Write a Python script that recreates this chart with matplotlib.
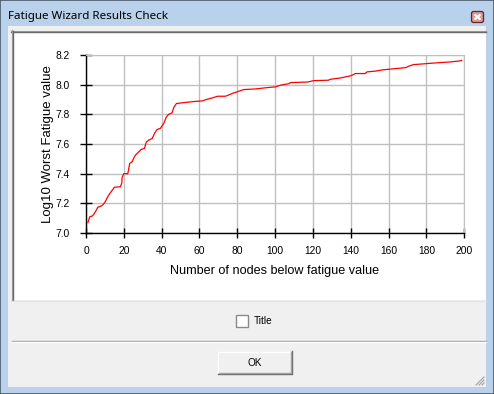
import matplotlib
matplotlib.use('Agg')
import matplotlib.pyplot as plt
from matplotlib.patches import Rectangle, FancyBboxPatch

# values: node count vs log10 worst fatigue value
nodes = [1, 2, 3.4, 4.1, 5.5, 6.2, 8.0, 8.9, 10.1, 11.5,
         13.3, 15.0, 18.2, 18.9, 19.1, 20.0, 22.1, 23.1, 24.4, 25.2,
         26.1, 27.9, 29.1, 30.9, 31.9, 33.2, 35.0, 36.2, 37.6, 39.3,
         41.1, 42.5, 43.7, 45.5, 46.4, 47.8, 52.5, 58.3, 61.4, 63.6,
         66.6, 69.6, 73.7, 76.3, 78.0, 79.8, 83.3, 89.5, 95.7, 100.1,
         102.7, 104.4, 107.4, 108.0, 117.3, 120.3, 128.2, 129.1, 134.4, 137.0,
         139.7, 141.4, 142.3, 147.6, 148.5, 153.4, 156.9, 163.4, 169.2, 170.4,
         173.1, 180.1, 187.2, 192.4, 197.7, 198.6]
fatigue = [7.07, 7.11, 7.115, 7.126, 7.155, 7.173, 7.182, 7.19, 7.209, 7.245,
           7.279, 7.308, 7.312, 7.335, 7.375, 7.40, 7.40, 7.469, 7.48, 7.503,
           7.525, 7.547, 7.563, 7.57, 7.614, 7.626, 7.637, 7.671, 7.698, 7.705,
           7.738, 7.783, 7.80, 7.81, 7.846, 7.873, 7.88, 7.888, 7.89, 7.90,
           7.91, 7.922, 7.922, 7.935, 7.944, 7.951, 7.967, 7.971, 7.98, 7.985,
           7.996, 8.00, 8.007, 8.014, 8.018, 8.027, 8.03, 8.036, 8.045, 8.052,
           8.059, 8.068, 8.075, 8.075, 8.086, 8.092, 8.10, 8.108, 8.115, 8.124,
           8.135, 8.142, 8.149, 8.153, 8.16, 8.164]

x_ticks = [0, 20, 40, 60, 80, 100, 120, 140, 160, 180, 200]
y_ticks = [7.0, 7.2, 7.4, 7.6, 7.8, 8.0, 8.2]

W, H = 494, 394
fig = plt.figure(figsize=(W / 100, H / 100), dpi=100)

# dialog window drawn in pixel coordinates
bg = fig.add_axes([0, 0, 1, 1])
bg.set_xlim(0, W)
bg.set_ylim(H, 0)
bg.axis('off')

frame = '#b9d1ea'
bg.add_patch(Rectangle((0, 0), W, H, facecolor=frame, edgecolor='#4a5a6a', lw=1.2))
bg.add_patch(Rectangle((8, 26), 478, 361, facecolor='#f0f0f0', edgecolor='none'))
bg.text(8, 16.5, 'Fatigue Wizard Results Check', fontsize=8.4, family='Noto Sans',
        va='center', ha='left', color='#000000')

# close button
bg.add_patch(FancyBboxPatch((471.5, 11.5), 12, 11, boxstyle='round,pad=0,rounding_size=2',
                            facecolor='#d99a92', edgecolor='#5c2a2a', lw=0.9))
bg.plot([474.5, 480.5], [14.5, 19.5], color='white', lw=1.6, solid_capstyle='butt')
bg.plot([474.5, 480.5], [19.5, 14.5], color='white', lw=1.6, solid_capstyle='butt')

# chart panel (sunken white area)
bg.add_patch(Rectangle((11, 30), 475, 270, facecolor='white', edgecolor='none'))
bg.plot([11, 486], [30.5, 30.5], color='#a0a0a0', lw=1)
bg.plot([11, 486], [31.5, 31.5], color='#696969', lw=1)
bg.plot([11.5, 11.5], [30, 300], color='#a0a0a0', lw=1)
bg.plot([12.5, 12.5], [31, 300], color='#696969', lw=1)
bg.plot([11, 486], [300.5, 300.5], color='#e3e3e3', lw=1)

# Title checkbox
bg.add_patch(Rectangle((235.5, 314.5), 12, 12, facecolor='white', edgecolor='#8a8a8a', lw=1))
bg.text(254, 321, 'Title', fontsize=7.2, family='Liberation Sans', va='center', ha='left')

# separator
bg.plot([12, 486], [340.5, 340.5], color='#a0a0a0', lw=1)
bg.plot([12, 486], [341.5, 341.5], color='white', lw=1)

# OK button
bg.add_patch(Rectangle((217.5, 351), 74, 22, facecolor='#f0f0f0', edgecolor='none'))
bg.plot([217.5, 217.5, 291], [373, 351.5, 351.5], color='white', lw=1)
bg.plot([217.5, 291.5, 291.5], [373.5, 373.5, 351], color='#696969', lw=1)
bg.plot([218.5, 290.5, 290.5], [372.5, 372.5, 352], color='#a0a0a0', lw=1)
bg.text(254.5, 362.5, 'OK', fontsize=7.2, family='Liberation Sans', va='center', ha='center')

# size grip
for k in range(3):
    d = 3 * k
    bg.plot([476 + d, 484], [385, 377 + d], color='#a0a0a0', lw=0.8)

# the chart itself
left, right, top, bottom = 86, 464.3, 55, 233
ax = fig.add_axes([left / W, 1 - bottom / H, (right - left) / W, (bottom - top) / H])
ax.plot(nodes, fatigue, color='red', lw=0.9, zorder=3)
ax.set_xlim(0, 200)
ax.set_ylim(7.0, 8.2)
ax.set_xticks(x_ticks)
ax.set_yticks(y_ticks)
ax.set_yticklabels([f'{v:.1f}' for v in y_ticks])
ax.grid(True, color='#c0c0c0', lw=1.0)
ax.set_axisbelow(True)
for s in ['top', 'right']:
    ax.spines[s].set_color('#c0c0c0')
for s in ['left', 'bottom']:
    ax.spines[s].set_color('black')
    ax.spines[s].set_linewidth(1.0)
ax.tick_params(axis='y', direction='inout', length=8, width=1, pad=7.5,
               labelsize=7.4, labelfontfamily='Liberation Sans')
ax.tick_params(axis='x', direction='inout', length=7, width=1, pad=6,
               labelsize=7.4, labelfontfamily='Liberation Sans')

fig.text(275 / W, 1 - 271 / H, 'Number of nodes below fatigue value', fontsize=9.1,
         family='Liberation Sans', ha='center', va='center')
fig.text(47.5 / W, 1 - 144 / H, 'Log10 Worst Fatigue value', fontsize=9.5,
         family='Liberation Sans', ha='center', va='center', rotation=90)

fig.savefig('out.png', dpi=100)
